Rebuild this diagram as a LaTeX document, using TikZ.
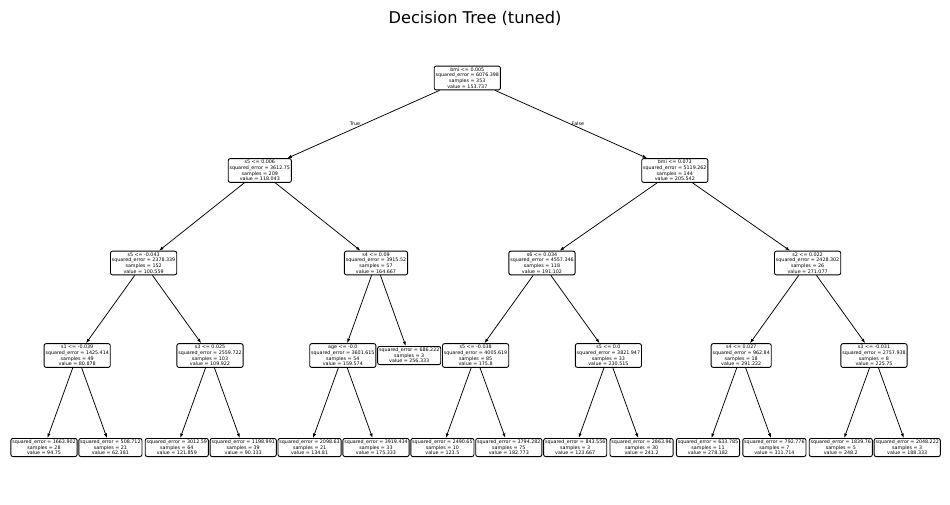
\documentclass[tikz,border=0pt]{standalone}
\usepackage{fontspec}
\setmainfont{DejaVu Sans}
\usetikzlibrary{arrows.meta}
\newcommand{\sqe}{squared\_error = }
\begin{document}
\begin{tikzpicture}[x=1pt,y=-1pt,
  tn/.style={draw, line width=0.9pt, rounded corners=2pt, fill=white, align=center,
    font=\fontsize{4.8}{5.7}\selectfont, inner xsep=1.4pt, inner ysep=1.5pt},
  edge/.style={line width=0.75pt, -{Latex[length=4.5pt,width=3.2pt]}},
  lbl/.style={font=\fontsize{4.8}{5.7}\selectfont}]
\useasboundingbox (0,0) rectangle (950,504);
\node[font=\fontsize{16.2}{19}\selectfont] (title) at (475,18) {Decision Tree (tuned)};
% root
\node[tn] (r) at (467.3,78) {bmi <= 0.005\\\sqe 6076.398\\samples = 353\\value = 153.737};
% level 1
\node[tn] (a) at (259.8,170.5) {s5 <= 0.006\\\sqe 3612.75\\samples = 209\\value = 118.043};
\node[tn] (b) at (674.8,170.5) {bmi <= 0.073\\\sqe 5119.262\\samples = 144\\value = 205.542};
% level 2
\node[tn] (aa) at (143.6,263) {s5 <= -0.043\\\sqe 2378.339\\samples = 152\\value = 100.559};
\node[tn] (ab) at (376,263) {s4 <= 0.09\\\sqe 3915.52\\samples = 57\\value = 164.667};
\node[tn] (ba) at (542,263) {s6 <= 0.034\\\sqe 4557.346\\samples = 118\\value = 191.102};
\node[tn] (bb) at (807.6,263) {s2 <= 0.022\\\sqe 2428.302\\samples = 26\\value = 271.077};
% level 3
\node[tn] (aaa) at (77.2,355.5) {s1 <= -0.039\\\sqe 1425.414\\samples = 49\\value = 80.878};
\node[tn] (aab) at (210,355.5) {s3 <= 0.025\\\sqe 2559.722\\samples = 103\\value = 109.922};
\node[tn] (aba) at (342.8,355.5) {age <= -0.0\\\sqe 3601.615\\samples = 54\\value = 159.574};
\node[tn] (abb) at (409.2,355.5) {\sqe 686.222\\samples = 3\\value = 256.333};
\node[tn] (baa) at (475.6,355.5) {s5 <= -0.038\\\sqe 4005.619\\samples = 85\\value = 175.8};
\node[tn] (bab) at (608.4,355.5) {s5 <= 0.0\\\sqe 3821.947\\samples = 33\\value = 230.515};
\node[tn] (bba) at (741.2,355.5) {s4 <= 0.027\\\sqe 962.84\\samples = 18\\value = 291.222};
\node[tn] (bbb) at (874,355.5) {s3 <= -0.031\\\sqe 2757.938\\samples = 8\\value = 225.75};
% level 4 leaves
\node[tn] (l0) at (44,447.5) {\sqe 1663.902\\samples = 28\\value = 94.75};
\node[tn] (l1) at (110.4,447.5) {\sqe 508.712\\samples = 21\\value = 62.381};
\node[tn] (l2) at (176.8,447.5) {\sqe 3012.59\\samples = 64\\value = 121.859};
\node[tn] (l3) at (243.2,447.5) {\sqe 1198.991\\samples = 39\\value = 90.333};
\node[tn] (l4) at (309.6,447.5) {\sqe 2098.63\\samples = 21\\value = 134.81};
\node[tn] (l5) at (376,447.5) {\sqe 3919.434\\samples = 33\\value = 175.333};
\node[tn] (l6) at (442.4,447.5) {\sqe 2490.65\\samples = 10\\value = 123.5};
\node[tn] (l7) at (508.8,447.5) {\sqe 3794.282\\samples = 75\\value = 182.773};
\node[tn] (l8) at (575.2,447.5) {\sqe 843.556\\samples = 3\\value = 123.667};
\node[tn] (l9) at (641.6,447.5) {\sqe 2863.96\\samples = 30\\value = 241.2};
\node[tn] (l10) at (708,447.5) {\sqe 633.785\\samples = 11\\value = 278.182};
\node[tn] (l11) at (774.4,447.5) {\sqe 792.776\\samples = 7\\value = 311.714};
\node[tn] (l12) at (840.8,447.5) {\sqe 1839.76\\samples = 5\\value = 248.2};
\node[tn] (l13) at (907.2,447.5) {\sqe 2048.222\\samples = 3\\value = 188.333};
% edges
\draw[edge] (r) -- (a);
\draw[edge] (r) -- (b);
\draw[edge] (a) -- (aa);
\draw[edge] (a) -- (ab);
\draw[edge] (b) -- (ba);
\draw[edge] (b) -- (bb);
\draw[edge] (aa) -- (aaa);
\draw[edge] (aa) -- (aab);
\draw[edge] (ab) -- (aba);
\draw[edge] (ab) -- (abb);
\draw[edge] (ba) -- (baa);
\draw[edge] (ba) -- (bab);
\draw[edge] (bb) -- (bba);
\draw[edge] (bb) -- (bbb);
\draw[edge] (aaa) -- (l0);
\draw[edge] (aaa) -- (l1);
\draw[edge] (aab) -- (l2);
\draw[edge] (aab) -- (l3);
\draw[edge] (aba) -- (l4);
\draw[edge] (aba) -- (l5);
\draw[edge] (baa) -- (l6);
\draw[edge] (baa) -- (l7);
\draw[edge] (bab) -- (l8);
\draw[edge] (bab) -- (l9);
\draw[edge] (bba) -- (l10);
\draw[edge] (bba) -- (l11);
\draw[edge] (bbb) -- (l12);
\draw[edge] (bbb) -- (l13);
% True / False labels
\node[lbl] (tl) at (355,123.5) {True};
\node[lbl] (fl) at (578,123.5) {False};
\end{tikzpicture}
\end{document}
